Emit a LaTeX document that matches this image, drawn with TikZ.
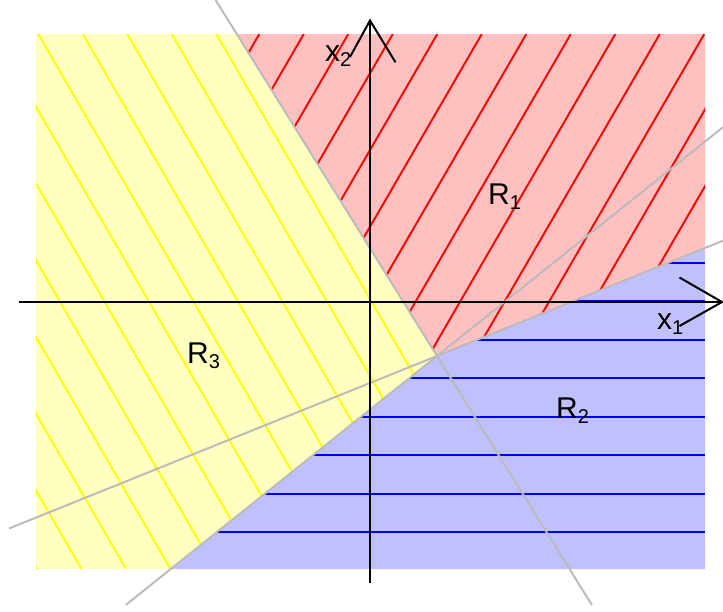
\documentclass[tikz,border=0pt]{standalone}
\usepackage{fontspec}
\setmainfont{Liberation Sans}
\definecolor{fillY}{HTML}{FFFFC0}
\definecolor{fillR}{HTML}{FFC0C0}
\definecolor{fillB}{HTML}{C0C0FF}
\definecolor{hatchY}{HTML}{FFFF00}
\definecolor{hatchR}{HTML}{FF0000}
\definecolor{hatchB}{HTML}{0000FF}
\definecolor{guide}{HTML}{BBBBBB}
\newcommand{\lbl}[2]{#1\raisebox{-5pt}{\fontsize{20}{20}\selectfont #2}}
\begin{document}
\begin{tikzpicture}[x=1pt,y=-1pt,
  hatchline/.style={line width=1.9pt},
  guideline/.style={draw=guide,line width=2pt},
  axis/.style={draw=black,line width=2pt},
  lab/.style={anchor=base west,inner sep=0pt,font=\fontsize{30}{34}\selectfont}]
\useasboundingbox (0,0) rectangle (723,611);
% key points
\coordinate (P) at (437,356);
\coordinate (TL) at (36,34);
\coordinate (T1) at (236.7,34);
\coordinate (TR) at (705,34);
\coordinate (R2) at (705,248);
\coordinate (BR) at (705,569);
\coordinate (B3) at (170.75,569);
\coordinate (BL) at (36,569);
% region fills
\fill[fillY] (TL) -- (T1) -- (P) -- (B3) -- (BL) -- cycle;
\fill[fillR] (T1) -- (TR) -- (R2) -- (P) -- cycle;
\fill[fillB] (P) -- (R2) -- (BR) -- (B3) -- cycle;
% hatches
\begin{scope}
  \clip (TL) -- (T1) -- (P) -- (B3) -- (BL) -- cycle;
  \foreach \i [evaluate=\i as \xt using {-317.7+44.5*\i}] in {0,1,2,3,4,5,6,7,8,9,10,11,12,13}
    \draw[hatchline,hatchY] (\xt,34) -- ({\xt+310.3},569);
\end{scope}
\begin{scope}
  \clip (T1) -- (TR) -- (R2) -- (P) -- cycle;
  \foreach \i [evaluate=\i as \xt using {214.8+44.5*\i}] in {0,1,2,3,4,5,6,7,8,9,10,11,12,13,14,15,16,17,18,19}
    \draw[hatchline,hatchR] (\xt,34) -- ({\xt-310.3},569);
\end{scope}
\begin{scope}
  \clip (P) -- (R2) -- (BR) -- (B3) -- cycle;
  \foreach \yt in {263,301,340,378,417,455,494,532}
    \draw[hatchline,hatchB] (36,\yt) -- (705,\yt);
\end{scope}
% separating lines
\coordinate (L1a) at (215.6,0);
\coordinate (L1b) at (591.9,605);
\coordinate (L2a) at (9,528.5);
\coordinate (L2b) at (723,240.7);
\coordinate (L3a) at (125.75,605);
\coordinate (L3b) at (723,127.2);
\draw[guideline] (L1a) -- (L1b);
\draw[guideline] (L2a) -- (L2b);
\draw[guideline] (L3a) -- (L3b);
% axes
\coordinate (XA) at (19,302);
\coordinate (XB) at (722,302);
\coordinate (YA) at (370,583);
\coordinate (YB) at (370,20.5);
\draw[axis] (XA) -- (XB);
\draw[axis] (YA) -- (YB);
\draw[axis,line join=miter] (679.5,277.5) -- (XB) -- (679.5,326);
\draw[axis,line join=miter] (350,57) -- (YB) -- (395.5,62.3);
% labels
\node[lab] (x1) at (657,329) {\lbl{x}{1}};
\node[lab] (x2) at (325,61.7) {\lbl{x}{2}};
\node[lab] (r1) at (488,204) {\lbl{R}{1}};
\node[lab] (r2) at (556,418) {\lbl{R}{2}};
\node[lab] (r3) at (187,363) {\lbl{R}{3}};
\end{tikzpicture}
\end{document}
